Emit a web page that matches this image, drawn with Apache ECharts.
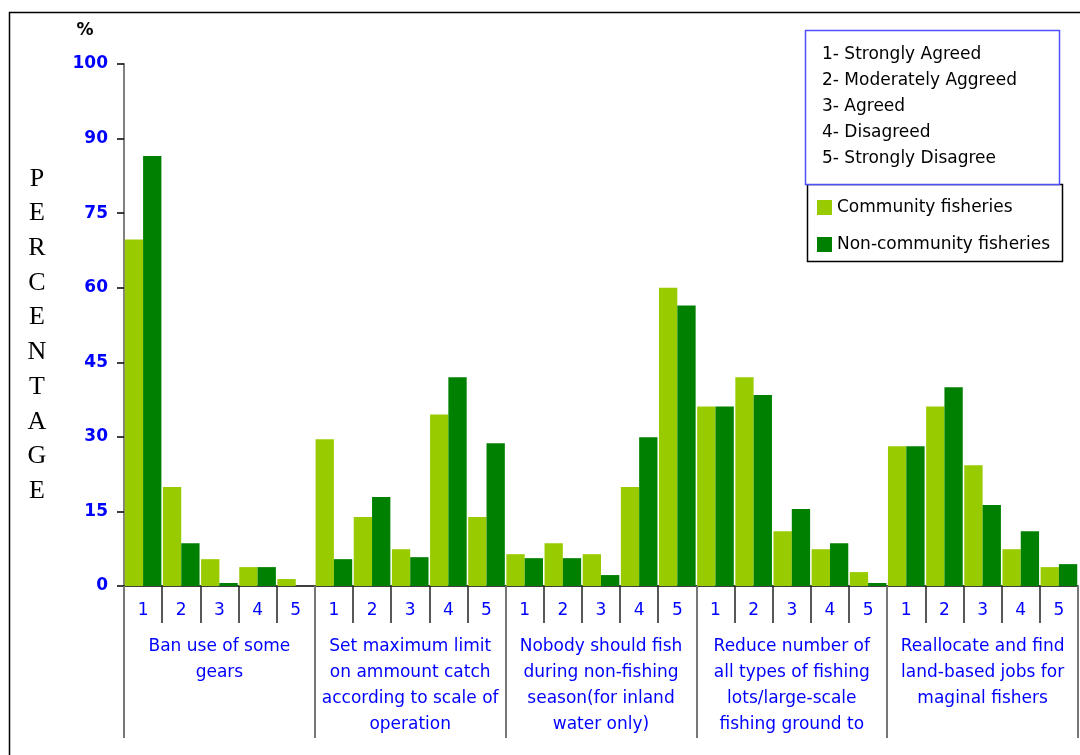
<!DOCTYPE html>
<html>
<head>
<meta charset="utf-8">
<script src="https://cdn.jsdelivr.net/npm/echarts@6/dist/echarts.min.js"></script>
<style>
  html, body { margin: 0; padding: 0; background: #fff; }
  #chart { width: 1080px; height: 755px; }
</style>
</head>
<body>
<div id="chart"></div>
<script>
// 问题分组
const questionLabels = [
  'Ban use of some\ngears',
  'Set maximum limit\non ammount catch\naccording to scale of\noperation',
  'Nobody should fish\nduring non-fishing\nseason(for inland\nwater only)',
  'Reduce number of\nall types of fishing\nlots/large-scale\nfishing ground to',
  'Reallocate and find\nland-based jobs for\nmaginal fishers'
];
const scaleLabels = ['1', '2', '3', '4', '5'];
const scaleMeaning = [
  '1- Strongly Agreed',
  '2- Moderately Aggreed',
  '3- Agreed',
  '4- Disagreed',
  '5- Strongly Disagree'
];
const yTickLabels = ['0', '15', '30', '45', '60', '75', '90', '100'];

// 数据
const communityValues = [
  69.7, 19.9, 5.4, 3.8, 1.4,
  29.5, 13.9, 7.4, 34.5, 13.9,
  6.4, 8.6, 6.4, 19.9, 60.0,
  36.1, 42.0, 11.0, 7.4, 2.8,
  28.1, 36.1, 24.3, 7.4, 3.8
];
const nonCommunityValues = [
  86.5, 8.6, 0.6, 3.8, 0,
  5.4, 17.9, 5.8, 42.0, 28.7,
  5.6, 5.6, 2.2, 29.9, 56.4,
  36.1, 38.4, 15.5, 8.6, 0.6,
  28.1, 40.0, 16.3, 11.0, 4.4
];

const categories = [];
questionLabels.forEach(function () {
  scaleLabels.forEach(function (s) { categories.push(s); });
});

const sansFont = '"DejaVu Sans", sans-serif';
const blue = '#0000ff';

const myChart = echarts.init(document.getElementById('chart'));
myChart.setOption({
  animation: false,
  backgroundColor: '#fff',
  grid: { left: 124, right: 2, top: 64, bottom: 169 },
  legend: {
    orient: 'vertical',
    left: 817,
    top: 199,
    padding: 0,
    itemWidth: 15,
    itemHeight: 15,
    itemGap: 20,
    icon: 'rect',
    textStyle: { fontFamily: sansFont, fontSize: 17, color: '#000', lineHeight: 15 },
    data: ['Community fisheries', 'Non-community fisheries']
  },
  xAxis: [
    {
      type: 'category',
      data: categories,
      position: 'bottom',
      axisLine: { show: true, lineStyle: { color: '#000', width: 1.5 } },
      axisTick: { show: true, length: 37, interval: 0, lineStyle: { color: '#222', width: 1.5 } },
      axisLabel: {
        interval: 0, margin: 16, color: blue,
        fontFamily: sansFont, fontSize: 17, lineHeight: 17
      }
    },
    {
      type: 'category',
      data: questionLabels,
      position: 'bottom',
      axisLine: { show: false },
      axisTick: { show: true, length: 152, interval: 0, lineStyle: { color: '#777', width: 2 } },
      axisLabel: {
        interval: 0, margin: 48, color: blue,
        fontFamily: sansFont, fontSize: 17, lineHeight: 26, align: 'center'
      }
    }
  ],
  yAxis: {
    type: 'value',
    min: 0,
    max: 105,
    interval: 15,
    name: '%',
    nameLocation: 'end',
    nameGap: 25,
    nameTextStyle: {
      fontFamily: sansFont, fontWeight: 'bold',
      fontSize: 17, color: '#000', align: 'center', padding: [0, 0, 0, -78]
    },
    axisLine: { show: true, lineStyle: { color: '#808080', width: 2 } },
    axisTick: { show: true, length: 7, lineStyle: { color: '#000', width: 1.5 } },
    splitLine: { show: false },
    axisLabel: {
      margin: 16, color: blue,
      fontFamily: sansFont, fontWeight: 'bold', fontSize: 17,
      formatter: function (v, i) { return yTickLabels[i]; }
    }
  },
  series: [
    {
      name: 'Community fisheries',
      type: 'bar',
      xAxisIndex: 0,
      data: communityValues,
      barGap: '0%',
      barCategoryGap: '4%',
      itemStyle: { color: '#99cc00' }
    },
    {
      name: 'Non-community fisheries',
      type: 'bar',
      xAxisIndex: 0,
      data: nonCommunityValues,
      barGap: '0%',
      barCategoryGap: '4%',
      itemStyle: { color: '#008000' }
    }
  ],
  graphic: [
    // 外框
    {
      type: 'rect', silent: true, z: -1,
      shape: { x: 9.5, y: 12.5, width: 1200, height: 900 },
      style: { fill: 'none', stroke: '#000', lineWidth: 1.5 }
    },
    // 纵向标题
    {
      type: 'text', silent: true,
      x: 37, y: 335,
      style: {
        text: 'PERCENTAGE'.split('').join('\n'),
        font: '26px "Liberation Serif", "Times New Roman", serif',
        lineHeight: 34.7, fill: '#000', align: 'center', verticalAlign: 'middle'
      }
    },
    // 说明框
    {
      type: 'rect', silent: true,
      shape: { x: 805.5, y: 30.5, width: 254, height: 154 },
      style: { fill: '#fff', stroke: '#5050ff', lineWidth: 1.5 }
    },
    {
      type: 'text', silent: true,
      x: 822, y: 42,
      style: {
        text: scaleMeaning.join('\n'),
        font: '17px ' + sansFont, lineHeight: 26, fill: '#000'
      }
    },
    {
      type: 'rect', silent: true, z: -1,
      shape: { x: 807.5, y: 184.5, width: 255, height: 77 },
      style: { fill: '#fff', stroke: '#000', lineWidth: 1.5 }
    }
  ]
});
</script>
</body>
</html>
